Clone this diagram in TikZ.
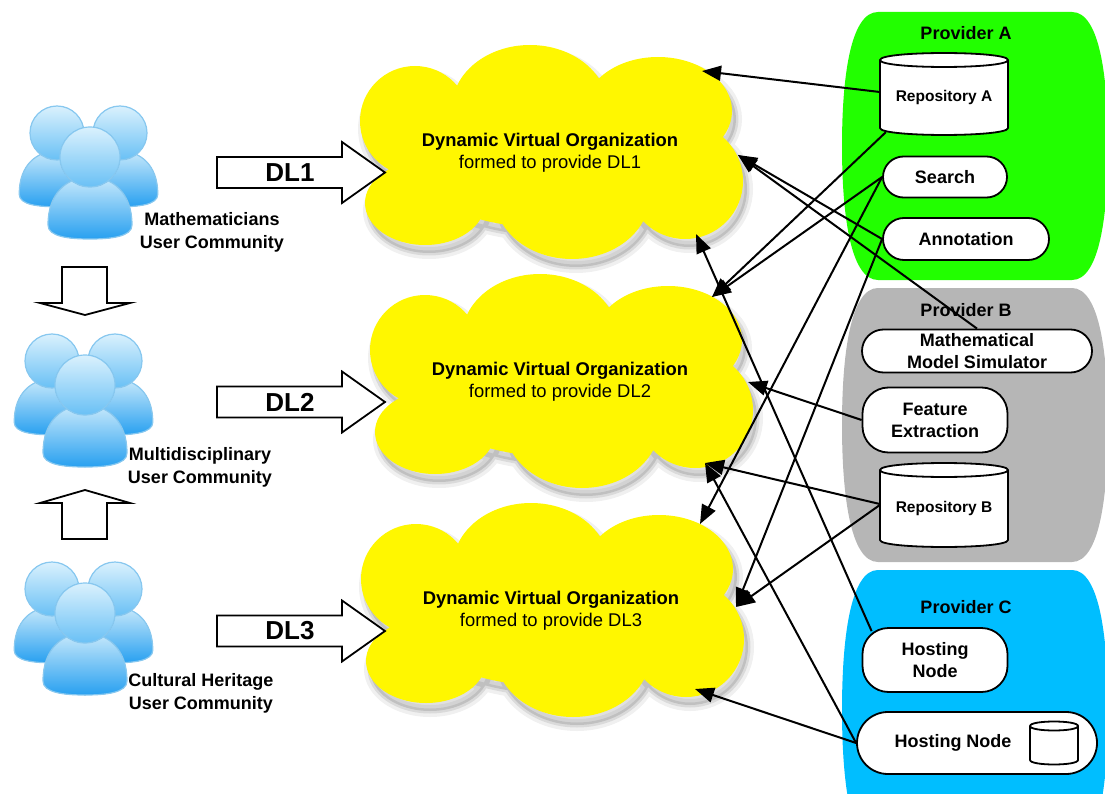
\documentclass[tikz,border=0pt]{standalone}
\usepackage{fontspec}
\setmainfont{Liberation Sans}
\usetikzlibrary{shapes.misc,arrows.meta,calc}
\pgfdeclarelayer{panel}
\pgfdeclarelayer{wires}
\pgfsetlayers{panel,wires,main}

\definecolor{provA}{RGB}{34,255,0}
\definecolor{provB}{RGB}{182,182,182}
\definecolor{provC}{RGB}{0,190,255}
\definecolor{dvoyellow}{RGB}{255,247,0}
\definecolor{bodylight}{RGB}{200,233,251}
\definecolor{bodydark}{RGB}{40,160,240}
\definecolor{headlight}{RGB}{218,241,253}
\definecolor{headdark}{RGB}{105,192,245}
\definecolor{userrim}{RGB}{135,200,240}

\newcommand\dgNodeFont{\fontsize{18}{22}\selectfont\bfseries}
\newcommand\dgDrumFont{\fontsize{15.5}{18}\selectfont\bfseries}
\newcommand\dgDvoFont{\fontsize{18.4}{22}\selectfont}
\newcommand\dgDlFont{\fontsize{26}{30}\selectfont\bfseries}

% storage drum: left x, right x, top rim y, bottom rim y, rim half-height
\newcommand\drum[5]{%
  \filldraw[fill=white,line width=1.8pt,line join=round]
    (#1,#3) -- (#1,#4) .. controls (#1,#4+1.33*#5) and (#2,#4+1.33*#5) .. (#2,#4)
    -- (#2,#3) .. controls (#2,#3-1.33*#5) and (#1,#3-1.33*#5) .. (#1,#3) -- cycle;
  \draw[line width=1.8pt] (#1,#3) .. controls (#1,#3+1.33*#5) and (#2,#3+1.33*#5) .. (#2,#3);}

% provider background: colour, top y, bottom y
\newcommand\provpanel[3]{%
  \pgfmathsetmacro\pnlq{(#3-#2)/4}%
  \pgfmathsetmacro\pnlm{(#3+#2)/2}%
  \fill[#1] (878,#2) -- (1072,#2)
    .. controls (1100,#2) and (1108,#2+\pnlq) .. (1108,\pnlm)
    .. controls (1108,#3-\pnlq) and (1100,#3) .. (1072,#3)
    -- (878,#3)
    .. controls (850,#3) and (842,#3-\pnlq) .. (842,\pnlm)
    .. controls (842,#2+\pnlq) and (850,#2) .. (878,#2) -- cycle;}

% virtual organisation cloud with soft shadow: x, y, node name, label
\newcommand\dvocloud[4]{%
  \begin{scope}[shift={(#1,#2)}]
    \fill[black,opacity=0.12,shift={(4,8)},cloudblobs];
    \draw[black,opacity=0.06,line width=12pt,shift={(4,8)},cloudblobs];
    \draw[black,opacity=0.09,line width=5pt,shift={(4,8)},cloudblobs];
    \fill[dvoyellow,cloudblobs];
  \end{scope}
  \node[dvotext] (#3) at (#1,#2) {#4};}

% library arrow: centre y, node name, label
\newcommand\dlarrow[3]{%
  \draw[blockarrow] (217,#1-15.5) -- (342,#1-15.5) -- (342,#1-30.5) -- (385,#1)
    -- (342,#1+30.5) -- (342,#1+15.5) -- (217,#1+15.5) -- cycle;
  \node[dltext] (#2) at (290,#1) {#3};}

\begin{document}
\begin{tikzpicture}[x=1pt,y=-1pt,
  wire/.style={line width=2pt,-{Triangle[length=19pt,width=15pt]}},
  pill/.style={rounded rectangle,draw,fill=white,line width=1.8pt,inner sep=0pt,
    font=\dgNodeFont,align=center},
  softbox/.style={rectangle,rounded corners=26pt,draw,fill=white,line width=1.8pt,
    inner sep=0pt,font=\dgNodeFont,align=center},
  drumtext/.style={inner sep=0pt,minimum width=128pt,minimum height=76pt,font=\dgDrumFont},
  ptitle/.style={font=\dgNodeFont},
  grp/.style={font=\fontsize{18}{23}\selectfont\bfseries,align=center,inner sep=0pt},
  dltext/.style={font=\dgDlFont,inner sep=0pt},
  dvotext/.style={align=center,font=\dgDvoFont,inner sep=0pt,
    minimum width=380pt,minimum height=214pt},
  blockarrow/.style={draw,fill=white,line width=1.8pt,line join=miter},
  cloudblobs/.style={insert path={
    (-135,-32) circle[radius=55]
    (-20,-45) ellipse[x radius=78,y radius=63]
    (108,-42) ellipse[x radius=74,y radius=54]
    (135,28) circle[radius=58]
    (22,42) ellipse[x radius=78,y radius=64]
    (-125,50) ellipse[x radius=60,y radius=42]
    (0,0) ellipse[x radius=150,y radius=75]}},
  pics/person/.style={code={
    \filldraw[top color=bodylight,bottom color=bodydark,draw=userrim,line width=1.2pt]
      (-42,68) .. controls (-42,35) and (-22,20) .. (0,20)
      .. controls (22,20) and (42,35) .. (42,68)
      .. controls (42,80) and (20,82) .. (0,82)
      .. controls (-20,82) and (-42,80) .. (-42,68) -- cycle;
    \filldraw[top color=headlight,bottom color=headdark,draw=userrim,line width=1.2pt]
      (0,0) circle[radius=30];}}
]
\clip (0,0) rectangle (1105,794);

% providers and virtual organisations
\begin{pgfonlayer}{panel}
  \provpanel{provA}{12}{280}
  \provpanel{provB}{288}{562}
  \provpanel{provC}{570}{850}
  \dvocloud{550}{153}{dvo1}{\textbf{Dynamic Virtual Organization}\\formed to provide DL1}
  \dvocloud{560}{382}{dvo2}{\textbf{Dynamic Virtual Organization}\\formed to provide DL2}
  \dvocloud{551}{611}{dvo3}{\textbf{Dynamic Virtual Organization}\\formed to provide DL3}
\end{pgfonlayer}

\node[ptitle] (provAtitle) at (966,33) {Provider A};
\node[ptitle] (provBtitle) at (966,310) {Provider B};
\node[ptitle] (provCtitle) at (966,607) {Provider C};

% provider A resources
\drum{880}{1008}{60}{128}{7}
\node[drumtext] (repA) at (944,97) {Repository A};
\node[pill,minimum width=124pt,minimum height=41pt] (search) at (945,177) {Search};
\node[pill,minimum width=166pt,minimum height=42pt] (annot) at (966,239) {Annotation};

% provider B resources
\node[pill,minimum width=230pt,minimum height=43pt] (mms) at (977,351) {Mathematical\\Model Simulator};
\node[softbox,minimum width=145pt,minimum height=65pt] (fe) at (935,420) {Feature\\Extraction};
\drum{880}{1008}{470}{540}{7}
\node[drumtext] (repB) at (944,508) {Repository B};

% provider C resources
\node[softbox,minimum width=145pt,minimum height=64pt] (hn1) at (935,660) {Hosting\\Node};
\node[pill,minimum width=240pt,minimum height=62pt] (hn2) at (977,743) {Hosting Node\hspace*{48pt}};
\drum{1030}{1078}{726}{760}{4.5}

% arrival points on the clouds
\coordinate (t1) at (702,71);
\coordinate (t2) at (738,155);
\coordinate (t3) at (696,234);
\coordinate (t4) at (712,297);
\coordinate (t5) at (748,382);
\coordinate (t6) at (705,463);
\coordinate (t7) at (700,524);
\coordinate (t8) at (736,607);
\coordinate (t9) at (695,689);

\begin{pgfonlayer}{wires}
  \draw[wire] ($(repA.west)+(0,-5)$) -- (t1);
  \draw[wire] (annot.west) -- (t2);
  \draw[wire] (mms.north) -- (t2);
  \draw[wire] ($(hn1.north west)+(10,4)$) -- (t3);
  \draw[wire] ($(repA.south west)+(6,-3)$) -- (t4);
  \draw[wire] (search.west) -- (t4);
  \draw[wire] (fe.west) -- (t5);
  \draw[wire] ($(repB.west)+(0,-4)$) -- (t6);
  \draw[wire] (hn2.west) -- (t6);
  \draw[wire] (search.west) -- (t7);
  \draw[wire] (annot.west) -- (t8);
  \draw[wire] ($(repB.west)+(0,-3)$) -- (t8);
  \draw[wire] (hn2.west) -- (t9);
\end{pgfonlayer}

% user communities
\foreach \gx/\gy in {90/157, 85/385, 85/613} {
  \pic[scale=0.9] at (\gx-33,\gy-24) {person};
  \pic[scale=0.9] at (\gx+30,\gy-24) {person};
  \pic at (\gx,\gy) {person};
}
\node[grp] (users1) at (212,232) {Mathematicians\\User Community};
\node[grp] (users2) at (200,467) {Multidisciplinary\\User Community};
\node[grp] (users3) at (201,693) {Cultural Heritage\\User Community};

% flows between communities
\draw[blockarrow] (62,267) -- (107,267) -- (107,303) -- (130,303) -- (85,315)
  -- (40,303) -- (62,303) -- cycle;
\draw[blockarrow] (62,539) -- (107,539) -- (107,503) -- (130,503) -- (85,490)
  -- (40,503) -- (62,503) -- cycle;

% digital libraries delivered to the communities
\dlarrow{172.5}{dl1}{DL1}
\dlarrow{402}{dl2}{DL2}
\dlarrow{631}{dl3}{DL3}
\end{tikzpicture}
\end{document}
